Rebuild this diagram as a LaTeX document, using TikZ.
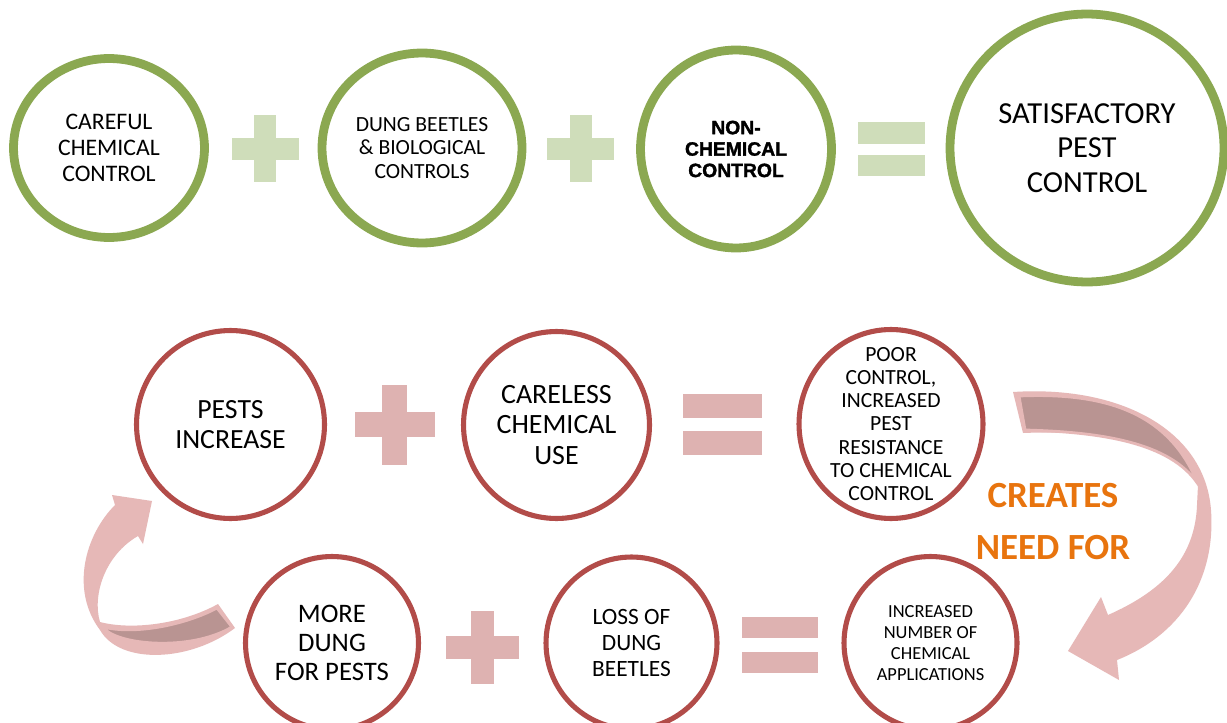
\documentclass[tikz,border=0pt]{standalone}
\usepackage{fontspec}
\setmainfont{Carlito}
\newfontfamily\heavyfont[BoldFeatures={FakeBold=1.6}]{Liberation Sans}
\usetikzlibrary{shapes.geometric}
\definecolor{ggreen}{HTML}{8BA851}
\definecolor{gsign}{HTML}{CFDDBA}
\definecolor{rred}{HTML}{B24C49}
\definecolor{rsign}{HTML}{DEB2B1}
\definecolor{apink}{HTML}{E6B8B7}
\definecolor{adark}{HTML}{B99492}
\definecolor{corange}{HTML}{E8740E}
\newcommand\plusshape[5]{%
  \fill[#5] (#1-#3/2,#2-#4/2) rectangle (#1+#3/2,#2+#4/2);
  \fill[#5] (#1-#4/2,#2-#3/2) rectangle (#1+#4/2,#2+#3/2);}
\newcommand\eqshape[6]{%
  \fill[#6] (#1-#3/2,#2-#5/2-#4) rectangle (#1+#3/2,#2-#5/2);
  \fill[#6] (#1-#3/2,#2+#5/2) rectangle (#1+#3/2,#2+#5/2+#4);}
\begin{document}
\begin{tikzpicture}[x=0.02cm,y=-0.02cm,
  gcirc/.style={ellipse,draw=ggreen,line width=5pt,fill=white,align=center,inner sep=-4cm},
  rcirc/.style={ellipse,draw=rred,line width=2.9pt,fill=white,align=center,inner sep=-4cm},
  ctext/.style={text=corange,font=\bfseries\fontsize{21}{24}\selectfont}]
\useasboundingbox (0,0) rectangle (1227,723);
\fill[white] (0,0) rectangle (1227,723);
\begin{scope}
\clip (0,0) rectangle (1227,723);
% top row
\node[gcirc,minimum width=3.82cm,minimum height=3.58cm,font=\fontsize{13.5}{14.7}\selectfont] (c1) at (109,148) {CAREFUL\\CHEMICAL\\CONTROL};
\node[gcirc,minimum width=4.0cm,minimum height=3.8cm,font=\fontsize{12.3}{13.3}\selectfont] (c2) at (422,148) {DUNG BEETLES\\\& BIOLOGICAL\\CONTROLS};
\node[gcirc,minimum width=3.82cm,minimum height=3.96cm,font=\heavyfont\bfseries\fontsize{11}{12.2}\selectfont] (c3) at (736,149) {NON-\\CHEMICAL\\CONTROL};
\node[gcirc,minimum width=5.48cm,minimum height=5.36cm,font=\fontsize{17.4}{19.8}\selectfont] (c4) at (1087,148) {SATISFACTORY\\PEST\\CONTROL};
\plusshape{265}{148.5}{67}{22}{gsign}
\plusshape{580.5}{148.5}{67}{22}{gsign}
\eqshape{891.5}{149}{67}{21}{11}{gsign}
% middle row
\node[rcirc,minimum width=3.76cm,minimum height=3.76cm,font=\fontsize{15.8}{17}\selectfont] (m1) at (230.5,424.5) {PESTS\\INCREASE};
\node[rcirc,minimum width=3.72cm,minimum height=3.74cm,font=\fontsize{15.9}{17.6}\selectfont] (m2) at (556.5,425) {CARELESS\\CHEMICAL\\USE};
\node[rcirc,minimum width=3.68cm,minimum height=3.78cm,font=\fontsize{12.3}{13.2}\selectfont] (m3) at (891,424) {POOR\\CONTROL,\\INCREASED\\PEST\\RESISTANCE\\TO CHEMICAL\\CONTROL};
\plusshape{394.5}{424.5}{80}{25.5}{rsign}
\eqshape{722.5}{424.5}{79}{24}{13}{rsign}
% bottom row
\node[rcirc,minimum width=3.46cm,minimum height=3.46cm,font=\fontsize{15.2}{16.7}\selectfont] (b1) at (332,643) {MORE\\DUNG\\FOR PESTS};
\node[rcirc,minimum width=3.42cm,minimum height=3.44cm,font=\fontsize{13.3}{14.7}\selectfont] (b2) at (631.5,643) {LOSS OF\\DUNG\\BEETLES};
\node[rcirc,minimum width=3.46cm,minimum height=3.46cm,font=\fontsize{10.5}{11.9}\selectfont] (b3) at (930.5,643) {INCREASED\\NUMBER OF\\CHEMICAL\\APPLICATIONS};
\plusshape{482.5}{647.5}{73}{23}{rsign}
\eqshape{780}{645}{76}{21}{14}{rsign}
% right curved arrow
\fill[apink] (1013,392) .. controls (1120,385) and (1205,430) .. (1211,510)
  .. controls (1216,580) and (1180,635) .. (1117,660) -- (1119,680) -- (1068,651)
  -- (1101,597) -- (1108,615) .. controls (1160,592) and (1195,560) .. (1197,505)
  -- (1198,485) .. controls (1170,440) and (1100,430) .. (1023,433) -- cycle;
\filldraw[fill=adark,draw=apink,line width=1.6pt] (1019,396) .. controls (1110,392) and (1170,415) .. (1198,484)
  .. controls (1170,442) and (1100,432) .. (1025,430) -- cycle;
% left curved arrow
\fill[apink] (218,604) .. controls (180,625) and (130,630) .. (100,622)
  .. controls (92,595) and (105,555) .. (138,536) -- (143,544) -- (152,501) -- (112,495) -- (115,505)
  .. controls (85,535) and (70,590) .. (100,630)
  .. controls (120,665) and (190,662) .. (235,628) -- cycle;
\filldraw[fill=adark,draw=apink,line width=1.6pt] (217,608) .. controls (185,625) and (135,635) .. (103,627)
  .. controls (115,645) and (190,652) .. (232,627) -- cycle;
% label
\node[ctext] (cr1) at (1053,496) {CREATES};
\node[ctext] (cr2) at (1053,548) {NEED FOR};
\end{scope}
\end{tikzpicture}
\end{document}
